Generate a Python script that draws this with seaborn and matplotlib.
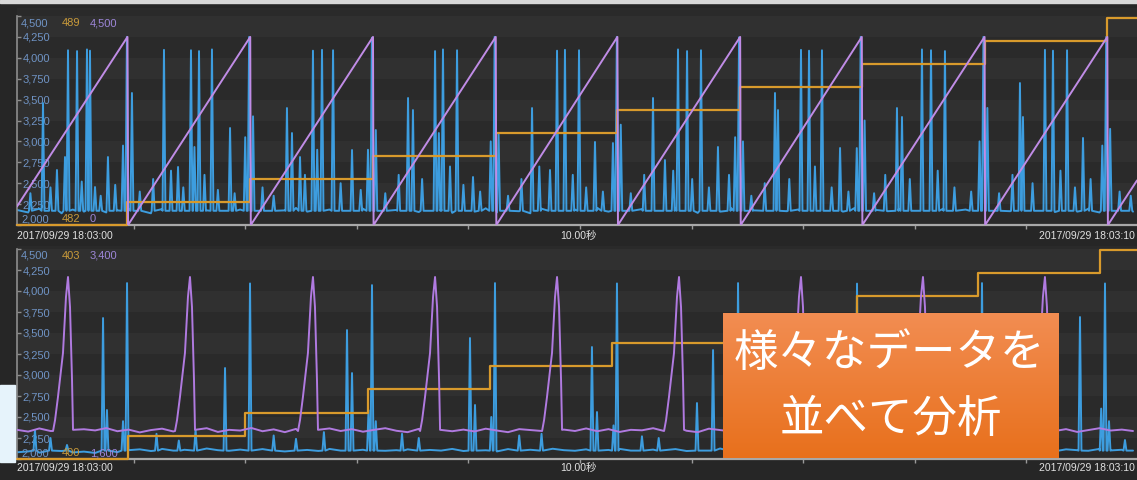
import numpy as np
import pandas as pd
import matplotlib
matplotlib.use("Agg")
import matplotlib.pyplot as plt
import seaborn as sns
from matplotlib.patches import Rectangle

# ---------------------------------------------------------------- data
# time axis in seconds from 18:03:00
time_labels = ["2017/09/29 18:03:00", "10.00秒", "2017/09/29 18:03:10"]

# upper group: sensor (blue), ramp (purple), counter (orange)
step_t_top = [0.99, 2.09, 3.19, 4.29, 5.38, 6.48, 7.57, 8.67, 9.77]
counter_top = [482, 483, 484, 485, 486, 487, 488, 489, 490, 491]
ramp_t_top = [0.0, 0.99, 0.995, 2.09, 2.095, 3.19, 3.195, 4.29, 4.295, 5.38,
              5.385, 6.48, 6.485, 7.57, 7.575, 8.67, 8.675, 9.77, 9.775, 10.036]
ramp_v_top = [400, 4050, 0, 4050, 0, 4050, 0, 4050, 0, 4050,
              0, 4050, 0, 4050, 0, 4050, 0, 4050, 0, 960]
base_top = [
    2180, 2150, 2195, 2165, 2140, 2185, 2160, 2205, 2150, 2175,
    2195, 2160, 2140, 2190, 2170, 2150, 2200, 2175, 2155, 2140,
    2185, 2165, 2195, 2150, 2175, 2205, 2160, 2145, 2185, 2170,
    2150, 2195, 2165, 2140, 2180, 2200, 2155, 2170, 2190, 2145,
    2175, 2160, 2200, 2150, 2185, 2165, 2140, 2195, 2170, 2155,
    2185, 2150, 2205, 2160, 2175, 2140, 2190, 2165, 2150, 2195,
    2170, 2145, 2185, 2160, 2200, 2155, 2175, 2190, 2140, 2165,
    2185, 2150, 2195, 2170, 2160, 2200, 2145, 2180, 2165, 2190,
    2155, 2175, 2140, 2195, 2160, 2185, 2170, 2150, 2200, 2165,
    2145, 2180, 2190, 2155, 2175, 2160, 2195, 2150, 2185, 2170,
    2160]
spikes_t_top = [
    0.457, 0.538, 0.627, 0.654, 1.317, 1.559, 1.631, 1.747,
    2.652, 2.733, 2.832, 3.746, 3.817, 3.943, 4.839, 4.910, 5.036,
    5.923, 6.004, 6.129, 7.025, 7.097, 7.213, 8.109, 8.190, 8.315,
    9.211, 9.283, 9.409,
    0.985, 2.08, 3.18, 4.28, 5.375, 6.47, 7.56, 8.66, 9.76,
    0.95, 2.045, 3.145, 4.245, 5.34, 6.435, 7.525, 8.625, 9.725,
    2.115, 4.315, 5.41, 6.505, 7.595, 8.695, 9.795,
    0.233, 0.358, 0.430, 0.699, 0.815, 1.030, 1.443, 1.590, 1.909, 2.419,
    2.464, 2.536, 2.690, 3.002, 3.215, 3.504, 3.548, 3.780, 4.086, 4.615,
    4.776, 5.179, 5.699, 5.806, 6.281, 6.792, 6.819, 7.375, 7.885, 7.930,
    8.987, 9.014, 9.552,
    0.12, 0.30, 0.58, 0.75, 0.88, 1.10, 1.22, 1.38, 1.49, 1.68,
    1.80, 1.95, 2.20, 2.30, 2.58, 2.90, 3.08, 3.30, 3.42, 3.63,
    3.88, 4.00, 4.15, 4.40, 4.52, 4.68, 4.98, 5.10, 5.25, 5.50,
    5.62, 5.88, 6.05, 6.20, 6.38, 6.58, 6.70, 6.92, 7.15, 7.30,
    7.45, 7.68, 7.78, 8.00, 8.25, 8.40, 8.55, 8.80, 8.92, 9.10,
    9.35, 9.48, 9.62, 9.88, 9.98]
spikes_v_top = [
    4090, 4080, 4100, 4085, 4095, 4090, 4080, 4100,
    4085, 4095, 4090, 4080, 4100, 4090, 4085, 4095, 4090,
    4100, 4080, 4090, 4095, 4085, 4090, 4100, 4090, 4080,
    4095, 4085, 4090,
    4250, 4250, 4240, 4250, 4250, 4245, 4250, 4250, 4250,
    2950, 3050, 2900, 3000, 2980, 3050, 2920, 3000, 2950,
    3300, 3100, 3200, 3000, 3250, 3400, 3150,
    3459, 2658, 2813, 2454, 2813, 3579, 2694, 2933, 3160, 3399,
    3100, 2813, 2900, 2897, 3136, 3519, 3375, 3100, 2574, 3399,
    2658, 2993, 3519, 2777, 2933, 3579, 3375, 2921, 3399, 3292,
    3698, 3292, 3041,
    2380, 2450, 2520, 2350, 2480, 2400, 2550, 2650, 2450, 2600,
    2420, 2380, 2450, 2350, 2600, 2500, 2420, 2380, 2600, 2550,
    2700, 2480, 2400, 2350, 2550, 2700, 2600, 2450, 2400, 2380,
    2600, 2650, 2550, 2450, 2600, 2350, 2500, 2550, 2700, 2450,
    2400, 2380, 2600, 2550, 2650, 2450, 2400, 2380, 2600, 2500,
    2650, 2450, 2550, 2400, 2350]

# lower group: sensor (blue), pulse signal (purple), counter (orange)
step_t_bot = [0.995, 2.04, 3.145, 4.24, 5.33, 6.435, 7.53, 8.61, 9.705]
counter_bot = [400, 401, 402, 403, 404, 405, 406, 407, 408, 409]
pulse_t_bot = [0.457, 1.550, 2.652, 3.746, 4.839, 5.932, 7.025, 8.118, 9.211]
pulse_dt = [-0.134, -0.116, -0.090, -0.045, -0.018, 0.0, 0.018, 0.036, 0.045]
pulse_v = [1840, 1934, 2131, 2509, 2990, 3160, 2903, 2277, 1850]
base_purple_bot = [
    1850, 1835, 1862, 1840, 1858, 1830, 1855, 1845, 1865, 1838,
    1852, 1828, 1848, 1860, 1836, 1856, 1842, 1864, 1832, 1850,
    1844, 1866, 1838, 1854, 1830, 1858, 1846, 1836, 1862, 1840,
    1856, 1834, 1850, 1864, 1842, 1830, 1858, 1846, 1862, 1838,
    1852, 1836, 1860, 1844, 1830, 1856, 1848, 1866, 1834, 1852,
    1840, 1862, 1838, 1856, 1832, 1850, 1846, 1864, 1836, 1858,
    1842, 1830, 1860, 1848, 1836, 1854, 1866, 1840, 1852, 1832,
    1858, 1844, 1862, 1838, 1850, 1834, 1856, 1846, 1864, 1840,
    1830, 1852, 1860, 1838, 1848, 1866, 1836, 1854, 1842, 1858,
    1834, 1850, 1862, 1840, 1856, 1832, 1848, 1864, 1844, 1852,
    1840]
base_bot = [
    2080, 2090, 2075, 2085, 2095, 2078, 2088, 2072, 2092, 2082,
    2105, 2115, 2095, 2120, 2100, 2110, 2090, 2125, 2105, 2098,
    2112, 2095, 2118, 2102, 2090, 2115, 2108, 2096, 2120, 2100,
    2092, 2110, 2125, 2098, 2105, 2115, 2090, 2108, 2100, 2120,
    2095, 2112, 2104, 2090, 2118, 2100, 2110, 2095, 2122, 2105,
    2098, 2115, 2092, 2108, 2120, 2100, 2090, 2112, 2105, 2118,
    2095, 2110, 2100, 2125, 2092, 2108, 2115, 2098, 2104, 2120,
    2090, 2112, 2100, 2118, 2095, 2108, 2125, 2100, 2092, 2115,
    2105, 2098, 2120, 2110, 2090, 2112, 2100, 2118, 2095, 2108,
    2122, 2100, 2110, 2092, 2115, 2105, 2098, 2120, 2102, 2110,
    2100]
spikes_t_bot = [
    0.986, 2.088, 3.181, 4.283, 5.376, 6.461, 7.527, 8.647, 9.749,
    0.161, 0.448, 0.771, 0.806, 1.864, 2.957, 3.002, 4.059, 4.104, 5.152,
    5.197, 6.093, 6.237, 7.330, 7.380, 8.432, 8.480, 9.525, 9.928,
    0.95, 3.15, 3.215, 4.25, 5.345, 6.43, 7.495, 8.615, 9.715, 9.785,
    0.30, 1.25, 1.45, 1.60, 2.30, 2.50, 2.75, 3.45, 3.60, 4.50,
    4.70, 5.60, 5.75, 6.70, 6.90, 7.80, 8.00, 8.90, 9.20]
spikes_v_bot = [
    4094, 4090, 4070, 4094, 4090, 4094, 4088, 4094, 4090,
    2345, 2167, 3678, 2583, 3083, 3535, 3023, 3440, 2643, 3333,
    2559, 2666, 3297, 3300, 2600, 3200, 2550, 3690, 2226,
    2450, 2580, 2450, 2500, 2400, 2550, 2450, 2500, 2600, 2450,
    2250, 2300, 2220, 2350, 2280, 2240, 2320, 2300, 2250, 2280,
    2300, 2270, 2250, 2300, 2280, 2300, 2280, 2300, 2260]

header_top = ["4,500", "489", "4,500"]
footer_top = ["2,000", "482", "0"]
header_bot = ["4,500", "403", "3,400"]
footer_bot = ["2,000", "400", "1,600"]
banner_lines = ["様々なデータを", "並べて分析"]

# ---------------------------------------------------------------- style
FIG_BG = "#262626"
PLOT_BG = "#2a2a2a"
BAND = "#303030"
BLUE = "#3d9ddf"
PURPLE_TOP = "#c08ce6"
PURPLE_BOT = "#b07ae0"
ORANGE = "#d89a2c"
LBL_BLUE = "#6f93c4"
LBL_ORANGE = "#c99a3a"
LBL_PURPLE = "#9d86d8"
DATE_COLOR = "#e2e2e2"

sns.set_style("dark", {"axes.facecolor": PLOT_BG, "figure.facecolor": FIG_BG})
plt.rcParams["font.family"] = ["Liberation Sans", "Noto Sans CJK JP", "DejaVu Sans"]

W, H = 1137, 480
fig = plt.figure(figsize=(W / 100, H / 100), dpi=100, facecolor=FIG_BG)


def fig_box(x0, y0, x1, y1):
    return [x0 / W, 1 - y1 / H, (x1 - x0) / W, (y1 - y0) / H]


def lim_from(ref, top_px, bot_px):
    (v_lo, p_lo), (v_hi, p_hi) = ref
    k = (v_hi - v_lo) / (p_lo - p_hi)
    return v_lo - (bot_px - p_lo) * k, v_hi + (p_hi - top_px) * k


HALF_W = 0.013
XMAX = (1137 - 17) / 111.6


def spike_frame(base_v, spk_t, spk_v, floor):
    bt = np.linspace(0, 10, len(base_v))
    spk_t = np.asarray(spk_t)
    keep = [np.all(np.abs(spk_t - t) > HALF_W) for t in bt]
    ts = list(bt[keep])
    vs = list(np.asarray(base_v)[keep])
    for t, v in zip(spk_t, spk_v):
        ts += [t - HALF_W, t, t + HALF_W]
        vs += [floor, v, floor]
    return pd.DataFrame({"t": ts, "v": vs}).sort_values("t", kind="stable")


def pulse_frame(base_v, peaks):
    bt = np.linspace(0, 10, len(base_v))
    keep = [all(not (p + pulse_dt[0] - 0.01 <= t <= p + pulse_dt[-1] + 0.01) for p in peaks)
            for t in bt]
    ts = list(bt[keep])
    vs = list(np.asarray(base_v)[keep])
    for p in peaks:
        ts += [p + d for d in pulse_dt]
        vs += list(pulse_v)
    return pd.DataFrame({"t": ts, "v": vs}).sort_values("t", kind="stable")


def step_frame(steps, levels):
    return pd.DataFrame({"t": [0.0] + list(steps) + [XMAX],
                         "v": list(levels) + [levels[-1]]})


def draw_panel(top_px, bot_px, blue_df, purple_df, purple_color, orange_df,
               blue_ref, purple_ref, orange_ref, header, footer, label_y):
    ax = fig.add_axes(fig_box(17, top_px, 1137, bot_px))
    ax.set_facecolor(PLOT_BG)
    blim = lim_from(blue_ref, top_px, bot_px)
    for k in range(1, 12, 2):
        ax.axhspan(2000 + 250 * k, 2250 + 250 * k, color=BAND, lw=0, zorder=0)
    sns.lineplot(data=blue_df, x="t", y="v", ax=ax, color=BLUE, linewidth=1.4,
                 estimator=None, sort=False, legend=False)
    ax.set_xlim(0, XMAX)
    ax.set_ylim(*blim)
    ax.set_xlabel("")
    ax.set_ylabel("")
    yt = list(range(2000, 4501, 250))
    ax.set_yticks(yt)
    ax.set_yticklabels(["" if v in (2000, 4500) else f"{v:,}" for v in yt])
    ax.tick_params(axis="y", direction="in", length=3, width=1, color="#8d8d8d",
                   pad=-23.8, labelsize=8, labelcolor=LBL_BLUE, left=True)
    ax.set_xticks([k + 0.045 for k in range(1, 10)])
    ax.tick_params(axis="x", direction="out", length=3, width=1, color="#9a9a9a",
                   labelbottom=False, bottom=True)
    for s in ("top", "right"):
        ax.spines[s].set_visible(False)
    ax.spines["left"].set_bounds(2000, 4500)
    ax.spines["left"].set_color("#8d8d8d")
    ax.spines["left"].set_linewidth(1.2)
    ax.spines["bottom"].set_color("#a8a8a8")
    ax.spines["bottom"].set_linewidth(1.6)

    ax_o = ax.twinx()
    sns.lineplot(data=orange_df, x="t", y="v", ax=ax_o, color=ORANGE, linewidth=1.6,
                 estimator=None, sort=False, legend=False, drawstyle="steps-post",
                 clip_on=False)
    ax_o.set_ylim(*lim_from(orange_ref, top_px, bot_px))

    ax_p = ax.twinx()
    sns.lineplot(data=purple_df, x="t", y="v", ax=ax_p, color=purple_color,
                 linewidth=1.4, estimator=None, sort=False, legend=False)
    ax_p.set_ylim(*lim_from(purple_ref, top_px, bot_px))

    for a in (ax_o, ax_p):
        a.set_xlim(0, XMAX)
        a.set_yticks([])
        a.set_ylabel("")
        for s in a.spines.values():
            s.set_visible(False)

    # range labels above and below the value axis
    hy, fy = header[1], footer[1]
    for txts, y in ((header[0], hy), (footer[0], fy)):
        for s, x, c in zip(txts, (21, 62, 90), (LBL_BLUE, LBL_ORANGE, LBL_PURPLE)):
            fig.text(x / W, 1 - y / H, s, ha="left", va="center", fontsize=8, color=c)

    # time labels under the panel
    fig.text(17 / W, 1 - label_y / H, time_labels[0], ha="left", va="center",
             fontsize=7.5, color=DATE_COLOR)
    fig.text(578 / W, 1 - label_y / H, time_labels[1], ha="center", va="center",
             fontsize=7.5, color=DATE_COLOR)
    fig.text(1135 / W, 1 - label_y / H, time_labels[2], ha="right", va="center",
             fontsize=7.5, color=DATE_COLOR)
    return ax


blue_top = spike_frame(base_top, spikes_t_top, spikes_v_top, 2170)
ramp_top = pd.DataFrame({"t": ramp_t_top, "v": ramp_v_top})
draw_panel(8, 225, blue_top, ramp_top, PURPLE_TOP, step_frame(step_t_top, counter_top),
           ((2000, 225), (4500, 16)), ((0, 225), (4500, 16)), ((482, 225), (491, 18)),
           (header_top, 23), (footer_top, 219), 236)

blue_bot = spike_frame(base_bot, spikes_t_bot, spikes_v_bot, 2100)
purple_bot = pulse_frame(base_purple_bot, pulse_t_bot)
draw_panel(246, 459, blue_bot, purple_bot, PURPLE_BOT, step_frame(step_t_bot, counter_bot),
           ((2000, 459), (4500, 249)), ((1600, 459), (3400, 249)), ((400, 459), (409, 250)),
           (header_bot, 256), (footer_bot, 453), 468)

# thin light strip along the top edge and pale patch at the left edge
fig.patches.append(Rectangle((0, 1 - 3 / H), 1, 3 / H, transform=fig.transFigure,
                             color="#d8d8d8", zorder=5))
fig.patches.append(Rectangle((0, 1 - 462 / H), 15 / W, 77 / H, transform=fig.transFigure,
                             color="#e6f3fb", zorder=5))

# orange banner
ax_b = fig.add_axes(fig_box(723, 313, 1059, 458), zorder=10)
grad = np.linspace(0, 1, 256)[:, None]
top_c = np.array([0xf2, 0x8d, 0x52]) / 255
bot_c = np.array([0xe8, 0x70, 0x1c]) / 255
img = top_c[None, None, :] * (1 - grad[:, :, None]) + bot_c[None, None, :] * grad[:, :, None]
ax_b.imshow(np.repeat(img, 4, axis=1), aspect="auto", extent=(0, 1, 0, 1))
ax_b.set_xlim(0, 1)
ax_b.set_ylim(0, 1)
ax_b.axis("off")
ax_b.text(0.494, (458 - 353) / 145, banner_lines[0], ha="center", va="center",
          fontsize=32, color="white", family=["Noto Sans CJK JP"])
ax_b.text(0.5, (458 - 419) / 145, banner_lines[1], ha="center", va="center",
          fontsize=32, color="white", family=["Noto Sans CJK JP"])

fig.savefig("out.png", dpi=100, facecolor=FIG_BG)
